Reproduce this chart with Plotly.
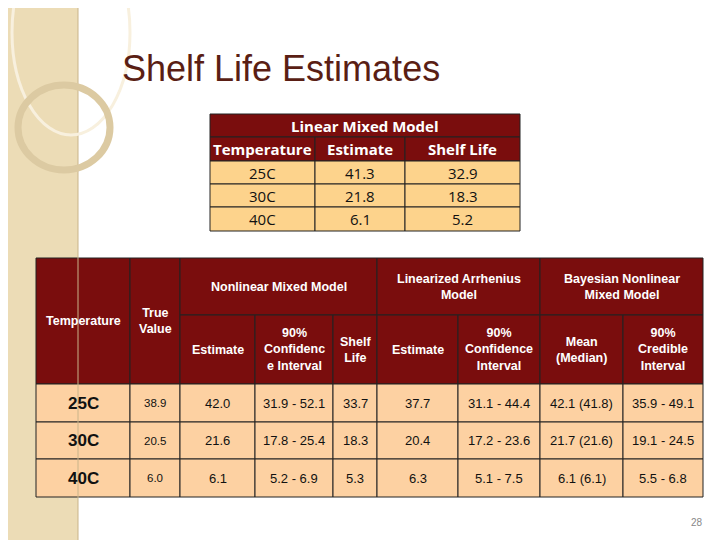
import plotly.graph_objects as go

title = "Shelf Life Estimates"

# top table
lin_title = "Linear Mixed Model"
lin_header = ["Temperature", "Estimate", "Shelf Life"]
lin_temps = ["25C", "30C", "40C"]
lin_estimate = ["41.3", "21.8", "6.1"]
lin_shelf = ["32.9", "18.3", "5.2"]

# bottom table
temps = ["25C", "30C", "40C"]
true_value = ["38.9", "20.5", "6.0"]
nl_estimate = ["42.0", "21.6", "6.1"]
nl_ci = ["31.9 - 52.1", "17.8 - 25.4", "5.2 - 6.9"]
nl_shelf = ["33.7", "18.3", "5.3"]
arr_estimate = ["37.7", "20.4", "6.3"]
arr_ci = ["31.1 - 44.4", "17.2 - 23.6", "5.1 - 7.5"]
bayes_mean = ["42.1 (41.8)", "21.7 (21.6)", "6.1 (6.1)"]
bayes_ci = ["35.9 - 49.1", "19.1 - 24.5", "5.5 - 6.8"]
group_labels = ["Nonlinear Mixed Model", "Linearized Arrhenius<br>Model", "Bayesian Nonlinear<br>Mixed Model"]
sub_labels = ["Estimate", "90%<br>Confidenc<br>e Interval", "Shelf<br>Life", "Estimate",
              "90%<br>Confidence<br>Interval", "Mean<br>(Median)", "90%<br>Credible<br>Interval"]
page = "28"

MAROON = "#7a0d0d"
shapes, ann = [], []


def rect(x0, y0, x1, y1, fill, line="#222222", w=1):
    shapes.append(dict(type="rect", x0=x0, y0=y0, x1=x1, y1=y1, fillcolor=fill,
                       line=dict(color=line, width=w), layer="below"))


def text(x, y, s, size, color, family="Liberation Sans", bold=False):
    if bold:
        s = "<b>" + s + "</b>"
    ann.append(dict(x=x, y=y, text=s, showarrow=False, xanchor="center", yanchor="middle",
                    font=dict(size=size, color=color, family=family)))


# left decoration strip
rect(0, 0, 78, 540, "#ecdcb6", line="#ecdcb6", w=0)
shapes.append(dict(type="line", x0=78, y0=0, x1=78, y1=540, line=dict(color="#c9b48a", width=1)))
shapes.append(dict(type="circle", x0=12, y0=-70, x1=130, y1=135, line=dict(color="#f8f0de", width=3)))
shapes.append(dict(type="circle", x0=18, y0=85, x1=110, y1=170, line=dict(color="#dccaa2", width=7)))

ann.append(dict(x=120, y=68, text=title, showarrow=False, xanchor="left", yanchor="middle",
                font=dict(size=36, color="#5a1e14", family="Liberation Sans")))

# top table
tx = [210, 315, 405, 520]
ty = [114, 137, 161, 184, 207, 231]
fam = "Open Sans"
rect(tx[0], ty[0], tx[3], ty[1], MAROON)
text((tx[0] + tx[3]) / 2, (ty[0] + ty[1]) / 2, lin_title, 15, "white", fam, bold=True)
for j, h in enumerate(lin_header):
    rect(tx[j], ty[1], tx[j + 1], ty[2], MAROON)
    text((tx[j] + tx[j + 1]) / 2, (ty[1] + ty[2]) / 2, h, 15, "white", fam, bold=True)
for i, row in enumerate(zip(lin_temps, lin_estimate, lin_shelf)):
    for j, v in enumerate(row):
        rect(tx[j], ty[i + 2], tx[j + 1], ty[i + 3], "#fdd38c")
        text((tx[j] + tx[j + 1]) / 2, (ty[i + 2] + ty[i + 3]) / 2, v, 15, "#111111", fam)

# bottom table
bx = [36, 130, 180, 255, 333, 377, 458, 540, 623, 703]
by = [258, 315, 384, 422, 459, 497]
hs = 12.5
rect(bx[0], by[0], bx[1], by[2], MAROON)
text((bx[0] + bx[1]) / 2, 321, "Temperature", hs, "white", bold=True)
rect(bx[1], by[0], bx[2], by[2], MAROON)
text((bx[1] + bx[2]) / 2, 321, "True<br>Value", hs, "white", bold=True)
spans = [(2, 5), (5, 7), (7, 9)]
for (a, b), g in zip(spans, group_labels):
    rect(bx[a], by[0], bx[b], by[1], MAROON)
    text((bx[a] + bx[b]) / 2, 287, g, hs, "white", bold=True)
for k, s in enumerate(sub_labels):
    rect(bx[k + 2], by[1], bx[k + 3], by[2], MAROON)
    text((bx[k + 2] + bx[k + 3]) / 2, (by[1] + by[2]) / 2, s, hs, "white", bold=True)

cols = [temps, true_value, nl_estimate, nl_ci, nl_shelf, arr_estimate, arr_ci, bayes_mean, bayes_ci]
for i in range(len(temps)):
    for j, col in enumerate(cols):
        rect(bx[j], by[i + 2], bx[j + 1], by[i + 3], "#fdd1a2")
        cx, cy = (bx[j] + bx[j + 1]) / 2, (by[i + 2] + by[i + 3]) / 2
        if j == 0:
            text(cx, cy, col[i], 17, "#111111", bold=True)
        else:
            text(cx, cy, col[i], 13 if j > 1 else 11.5, "#111111")

ann.append(dict(x=697, y=522, text=page, showarrow=False, xanchor="center", yanchor="middle",
                font=dict(size=10, color="#888888", family="Liberation Sans")))

fig = go.Figure()
# page body adds an 8px margin, so shift the view by 8px
fig.update_layout(
    width=720, height=540, margin=dict(l=0, r=0, t=0, b=0),
    plot_bgcolor="white", paper_bgcolor="white",
    xaxis=dict(range=[8, 728], visible=False, fixedrange=True),
    yaxis=dict(range=[548, 8], visible=False, fixedrange=True),
    shapes=shapes, annotations=ann, showlegend=False,
)
fig.write_html("out.html")
